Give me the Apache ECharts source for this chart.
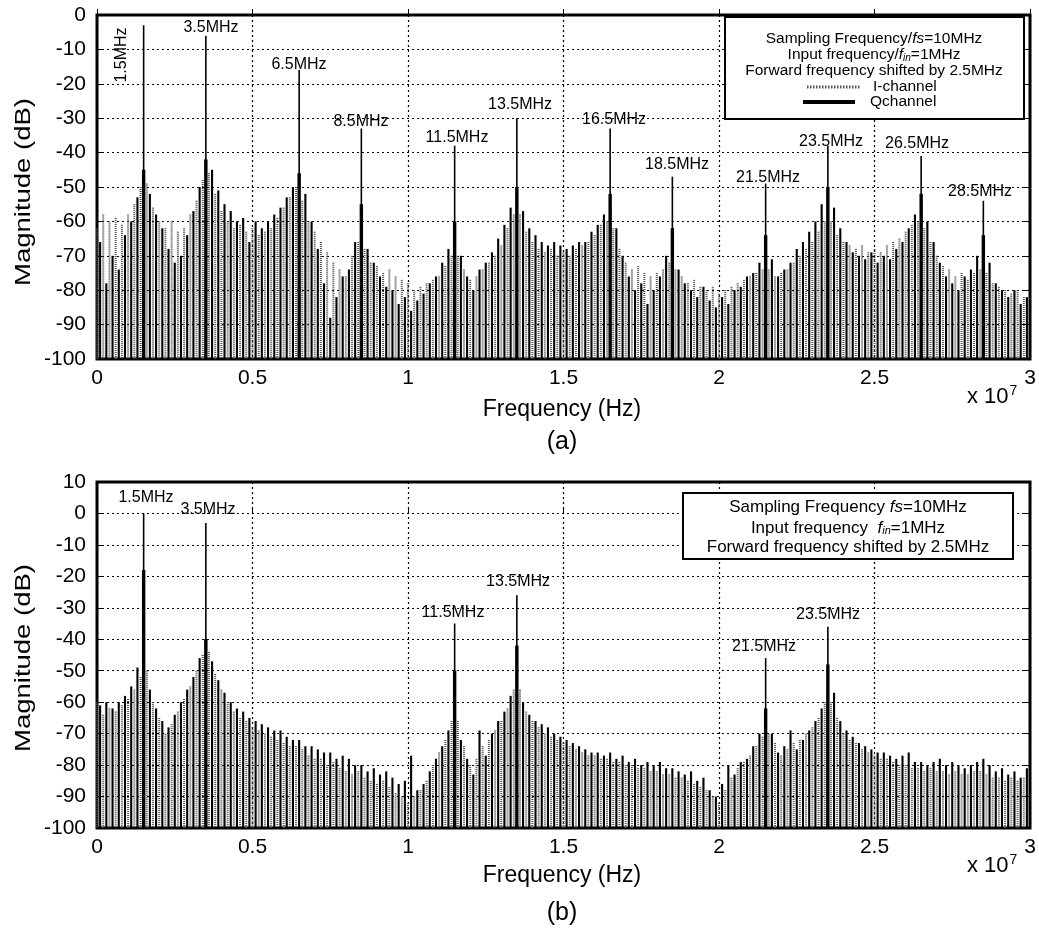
<!DOCTYPE html>
<html>
<head>
<meta charset="utf-8">
<title>I/Q spectrum</title>
<script src="https://cdn.jsdelivr.net/npm/echarts@6/dist/echarts.min.js"></script>
<style>
  html, body { margin: 0; padding: 0; background: #fff; }
  #main { width: 1039px; height: 931px; }
</style>
</head>
<body>
<div id="main"></div>
<script>
// spectrum stems, one value per 0.2 MHz bin (dB)
// Q channel bins start at 0.1 MHz, I channel bins at 0.0 MHz
var binStep = 0.2;
var qStart = 0.1;
var iStart = 0.0;

// (a) forward shift, both channels
var qA = [
  -66,-78,-70,-74,-64,-60,-53,-47,-52,-58,
  -62,-68,-72,-70,-64,-57,-50,-42,-45,-51,
  -55,-57,-60,-59,-66,-60,-62,-60,-58,-56,
  -53,-50,-46,-52,-60,-68,-78,-88,-82,-76,
  -74,-66,-61,-68,-72,-76,-79,-80,-84,-82,
  -86,-83,-81,-78,-76,-72,-68,-64,-70,-76,
  -80,-74,-72,-69,-65,-61,-56,-53,-57,-62,
  -64,-66,-67,-66,-67,-68,-67,-66,-66,-63,
  -61,-58,-56,-62,-70,-76,-80,-78,-84,-80,
  -76,-70,-66,-74,-78,-80,-82,-79,-83,-85,
  -82,-84,-80,-79,-76,-75,-72,-68,-71,-76,
  -74,-72,-68,-66,-63,-60,-55,-51,-56,-62,
  -66,-69,-70,-71,-69,-72,-70,-71,-68,-66,
  -62,-58,-52,-60,-66,-72,-76,-78,-80,-76,
  -74,-70,-66,-72,-78,-80,-82,-80,-84,-82
];
var iA = [
  -62,-58,-60,-59,-61,-58,-55,-50,-49,-56,
  -60,-62,-60,-63,-62,-58,-54,-48,-46,-52,
  -57,-60,-62,-61,-63,-62,-64,-63,-62,-59,
  -56,-53,-50,-54,-60,-63,-66,-69,-72,-74,
  -76,-70,-66,-68,-72,-73,-75,-74,-76,-77,
  -78,-80,-79,-78,-77,-76,-73,-70,-70,-74,
  -77,-76,-74,-72,-70,-67,-62,-58,-58,-63,
  -66,-68,-69,-68,-70,-69,-70,-68,-67,-66,
  -64,-61,-60,-62,-68,-72,-74,-73,-75,-76,
  -75,-74,-72,-74,-76,-78,-77,-79,-80,-79,
  -81,-80,-79,-78,-77,-76,-75,-74,-74,-76,
  -75,-74,-72,-70,-68,-66,-63,-60,-60,-64,
  -66,-67,-68,-67,-69,-68,-69,-67,-66,-65,
  -63,-61,-60,-62,-66,-70,-73,-74,-76,-75,
  -77,-75,-74,-75,-78,-79,-80,-81,-80,-82
];
var peakFreqA = [1.5, 3.5, 6.5, 8.5, 11.5, 13.5, 16.5, 18.5, 21.5, 23.5, 26.5, 28.5];
var peakDbA   = [-3, -6, -16, -33, -38, -30, -33, -47, -49, -38, -41, -54];
var peakBodyA = [-45, -42, -46, -55, -60, -50, -52, -62, -64, -50, -52, -64];

// (b)
var qB = [
  -61,-60,-62,-60,-58,-55,-49,-43,-56,-62,
  -66,-68,-64,-60,-56,-52,-46,-40,-47,-53,
  -57,-60,-62,-63,-65,-66,-67,-68,-69,-69,
  -71,-72,-72,-74,-74,-75,-76,-76,-78,-77,
  -78,-80,-80,-82,-81,-83,-82,-84,-86,-85,
  -77,-88,-86,-82,-78,-74,-69,-62,-72,-78,
  -83,-69,-77,-70,-66,-63,-58,-51,-60,-64,
  -66,-67,-68,-70,-71,-72,-73,-74,-75,-76,
  -76,-77,-76,-78,-77,-79,-78,-80,-79,-80,
  -79,-81,-81,-82,-83,-82,-85,-84,-88,-90,
  -86,-80,-83,-79,-78,-74,-70,-67,-70,-76,
  -74,-69,-75,-72,-69,-66,-62,-56,-57,-66,
  -69,-71,-73,-74,-75,-76,-76,-77,-78,-77,
  -76,-79,-79,-80,-79,-78,-80,-79,-80,-81,
  -80,-79,-78,-80,-82,-81,-83,-82,-84,-81
];
var iB = [
  -60,-64,-62,-63,-61,-59,-56,-52,-50,-60,
  -65,-70,-67,-63,-59,-55,-50,-45,-44,-51,
  -56,-60,-63,-65,-66,-68,-69,-70,-71,-72,
  -73,-74,-74,-75,-77,-78,-78,-80,-79,-81,
  -82,-83,-82,-84,-85,-86,-85,-87,-89,-90,
  -92,-90,-88,-85,-80,-76,-72,-66,-66,-74,
  -80,-78,-74,-72,-69,-66,-62,-56,-56,-63,
  -66,-68,-70,-71,-72,-73,-74,-75,-76,-77,
  -77,-78,-78,-79,-79,-80,-80,-81,-81,-82,
  -82,-83,-83,-84,-84,-85,-86,-87,-88,-90,
  -92,-88,-84,-81,-79,-77,-74,-71,-70,-73,
  -77,-75,-73,-72,-70,-68,-65,-60,-60,-65,
  -70,-72,-73,-75,-76,-77,-78,-78,-79,-80,
  -80,-81,-81,-82,-81,-82,-82,-83,-82,-83,
  -83,-82,-82,-83,-84,-84,-85,-84,-85,-84
];
var peakFreqB = [1.5, 3.5, 11.5, 13.5, 21.5, 23.5];
var peakDbB   = [0, -3, -35, -26, -46, -36];
var peakBodyB = [-18, -40, -50, -42, -62, -48];

var xTickLabels = ['0', '0.5', '1', '1.5', '2', '2.5', '3'];
var FLOOR = -100;
var FONT = "'Liberation Sans', Arial, sans-serif";

function bins(start, vals) {
  return vals.map(function (v, i) { return [(start + i * binStep) * 1e6, v]; });
}
function peaks(freqs, vals) {
  return freqs.map(function (f, i) { return [f * 1e6, vals[i]]; });
}

// vertical stem from the floor up to the value
function stems(color, width, dash) {
  return function (params, api) {
    var top = api.coord([api.value(0), api.value(1)]);
    var base = api.coord([api.value(0), FLOOR]);
    return {
      type: 'line',
      shape: { x1: top[0], y1: top[1], x2: base[0], y2: base[1] },
      style: { stroke: color, lineWidth: width, lineDash: dash || null }
    };
  };
}

function stemSeries(idx, data, color, width, dash) {
  return {
    type: 'custom', xAxisIndex: idx, yAxisIndex: idx, silent: true,
    renderItem: stems(color, width, dash), data: data, encode: { x: 0, y: 1 }
  };
}

var dotted = { color: '#000', type: [2, 3], width: 1.2 };

function xAx(idx) {
  return {
    type: 'value', gridIndex: idx, min: 0, max: 3e7, interval: 5e6,
    axisLine: { show: false },
    axisTick: { inside: true, length: 6, lineStyle: { color: '#000' } },
    axisLabel: {
      margin: 9, color: '#000', fontSize: 21, fontFamily: FONT,
      formatter: function (v) { return xTickLabels[Math.round(v / 5e6)]; }
    },
    splitLine: { show: true, lineStyle: dotted }
  };
}
function yAx(idx, max) {
  return {
    type: 'value', gridIndex: idx, min: -100, max: max, interval: 10,
    axisLine: { show: false },
    axisTick: { inside: true, length: 6, lineStyle: { color: '#000' } },
    axisLabel: { margin: 11, color: '#000', fontSize: 21, fontFamily: FONT },
    splitLine: { show: true, lineStyle: dotted }
  };
}
function yAxRight(idx, max) {
  return {
    type: 'value', gridIndex: idx, min: -100, max: max, interval: 10, position: 'right',
    axisLine: { show: false },
    axisTick: { inside: true, length: 6, lineStyle: { color: '#000' } },
    axisLabel: { show: false }, splitLine: { show: false }
  };
}

function txt(x, y, s, size, opts) {
  opts = opts || {};
  return {
    type: 'text', x: x, y: y, rotation: opts.rotation || 0,
    scaleX: opts.scaleX || 1, z: 100,
    style: {
      text: s, fontSize: size, fontFamily: FONT, fill: '#000',
      align: opts.align || 'center', textAlign: opts.align || 'center',
      verticalAlign: 'middle', textVerticalAlign: 'middle', rich: opts.rich
    }
  };
}

var mathRich = {
  i: { fontStyle: 'italic', fontSize: 15.5, fontFamily: FONT },
  s: { fontStyle: 'italic', fontSize: 10, fontFamily: FONT, verticalAlign: 'bottom', padding: [6, 0, 0, 0] }
};
var mathRichB = {
  i: { fontStyle: 'italic', fontSize: 17, fontFamily: FONT },
  s: { fontStyle: 'italic', fontSize: 11, fontFamily: FONT, verticalAlign: 'bottom', padding: [6, 0, 0, 0] }
};
var supRich = { p: { fontSize: 14, fontFamily: FONT, verticalAlign: 'top', padding: [0, 0, 12, 1] } };

var graphic = [
  // axis names
  txt(24, 192, 'Magnitude (dB)', 22, { rotation: Math.PI / 2, scaleX: 1.25 }),
  txt(24, 658, 'Magnitude (dB)', 22, { rotation: Math.PI / 2, scaleX: 1.25 }),
  txt(562, 410, 'Frequency (Hz)', 23),
  txt(562, 876, 'Frequency (Hz)', 23),
  txt(562, 442, '(a)', 25),
  txt(562, 913, '(b)', 25),
  txt(967, 397, 'x 10{p|7}', 22, { align: 'left', rich: supRich }),
  txt(967, 866, 'x 10{p|7}', 22, { align: 'left', rich: supRich }),

  // peak labels (a)
  txt(122, 55, '1.5MHz', 16, { rotation: Math.PI / 2 }),
  txt(211, 28, '3.5MHz', 16),
  txt(299, 65, '6.5MHz', 16),
  txt(361, 122, '8.5MHz', 16),
  txt(457, 138, '11.5MHz', 16),
  txt(520, 105, '13.5MHz', 16),
  txt(614, 120, '16.5MHz', 16),
  txt(677, 165, '18.5MHz', 16),
  txt(768, 178, '21.5MHz', 16),
  txt(831, 142, '23.5MHz', 16),
  txt(917, 144, '26.5MHz', 16),
  txt(980, 192, '28.5MHz', 16),

  // peak labels (b)
  txt(146, 498, '1.5MHz', 16),
  txt(208, 510, '3.5MHz', 16),
  txt(453, 613, '11.5MHz', 16),
  txt(518, 582, '13.5MHz', 16),
  txt(764, 647, '21.5MHz', 16),
  txt(828, 615, '23.5MHz', 16),

  // legend box (a)
  { type: 'rect', z: 90, shape: { x: 725, y: 17, width: 299, height: 102 },
    style: { fill: '#fff', stroke: '#000', lineWidth: 2 } },
  txt(874, 39, 'Sampling Frequency/{i|fs}=10MHz', 15.5, { rich: mathRich }),
  txt(874, 55, 'Input frequency/{i|f}{s|in}=1MHz', 15.5, { rich: mathRich }),
  txt(874, 71, 'Forward frequency shifted by 2.5MHz', 15.5),
  txt(873, 87, 'I-channel', 15.5, { align: 'left' }),
  txt(870, 102, 'Qchannel', 15.5, { align: 'left' }),
  { type: 'line', z: 100, shape: { x1: 807, y1: 87, x2: 860, y2: 87 },
    style: { stroke: '#555', lineWidth: 3, lineDash: [1.5, 1.5] } },
  { type: 'line', z: 100, shape: { x1: 803, y1: 102, x2: 855, y2: 102 },
    style: { stroke: '#000', lineWidth: 4 } },

  // legend box (b)
  { type: 'rect', z: 90, shape: { x: 683, y: 493, width: 330, height: 66 },
    style: { fill: '#fff', stroke: '#000', lineWidth: 2 } },
  txt(848, 507, 'Sampling Frequency {i|fs}=10MHz', 17, { rich: mathRichB }),
  txt(848, 528, 'Input frequency  {i|f}{s|in}=1MHz', 17, { rich: mathRichB }),
  txt(848, 547, 'Forward frequency shifted by 2.5MHz', 17)
];

var option = {
  animation: false,
  backgroundColor: '#fff',
  grid: [
    { left: 97, top: 15, width: 933, height: 344, show: true, borderColor: '#000', borderWidth: 3, backgroundColor: 'transparent' },
    { left: 97, top: 482, width: 933, height: 346, show: true, borderColor: '#000', borderWidth: 3, backgroundColor: 'transparent' }
  ],
  xAxis: [xAx(0), xAx(1)],
  yAxis: [yAx(0, 0), yAx(1, 10), yAxRight(0, 0), yAxRight(1, 10)],
  series: [
    stemSeries(0, bins(iStart, iA), '#4a4a4a', 2, [1, 1]),
    stemSeries(0, bins(qStart, qA), '#000', 2.1),
    stemSeries(0, peaks(peakFreqA, peakBodyA), '#000', 3.4),
    stemSeries(0, peaks(peakFreqA, peakDbA), '#000', 1.6),
    stemSeries(1, bins(iStart, iB), '#4a4a4a', 2, [1, 1]),
    stemSeries(1, bins(qStart, qB), '#000', 2.1),
    stemSeries(1, peaks(peakFreqB, peakBodyB), '#000', 3.4),
    stemSeries(1, peaks(peakFreqB, peakDbB), '#000', 1.6)
  ],
  graphic: graphic
};

var chart = echarts.init(document.getElementById('main'));
chart.setOption(option);
</script>
</body>
</html>
